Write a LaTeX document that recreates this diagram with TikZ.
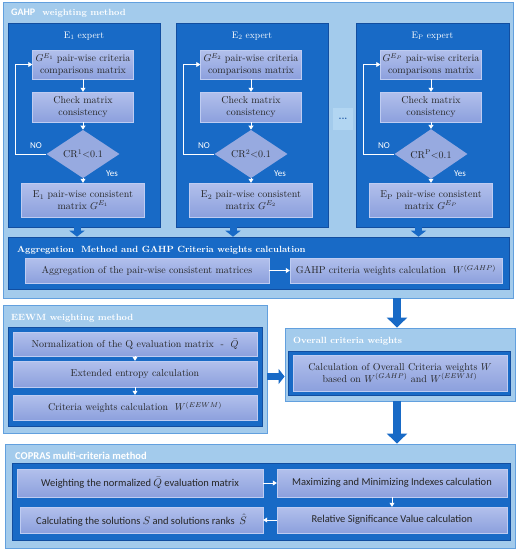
\documentclass[tikz,border=0pt]{standalone}
\usepackage{fontspec}
\newfontfamily\calib{Carlito}
\usepackage{amsmath}
\usepackage{xcolor}
\usetikzlibrary{shapes.geometric,arrows.meta,positioning,calc}

\definecolor{outerblue}{RGB}{163,203,236}
\definecolor{lineblue}{RGB}{98,160,222}
\definecolor{darkblue}{RGB}{24,106,198}
\definecolor{navyblue}{RGB}{18,78,160}
\definecolor{boxtop}{RGB}{178,192,236}
\definecolor{boxbot}{RGB}{140,160,221}
\definecolor{boxline}{RGB}{190,204,242}
\definecolor{dotblue}{RGB}{178,214,242}

\begin{document}
\begin{tikzpicture}[x=1pt, y=-1pt,
    outerbox/.style={rectangle, draw=lineblue, line width=0.9pt, fill=outerblue, inner sep=0pt},
    darkbox/.style={rectangle, draw=navyblue, line width=0.6pt, fill=darkblue, inner sep=0pt},
    stepbox/.style={rectangle, draw=boxline, line width=0.4pt, top color=boxtop, bottom color=boxbot, align=center, text=black!85, font=\fontsize{10}{11.5}\selectfont, inner sep=1pt},
    sansbox/.style={stepbox, font=\calib\fontsize{10.5}{12}\selectfont},
    critbox/.style={diamond, fill=boxbot!90!white, text=black!85, minimum width=73pt, minimum height=32pt, inner sep=0pt, font=\fontsize{10}{11}\selectfont},
    headtext/.style={anchor=west, text=white, font=\fontsize{9}{11}\selectfont\bfseries, inner sep=0pt},
    expertname/.style={text=white, font=\fontsize{9.5}{11}\selectfont, inner sep=0pt},
    choice/.style={text=white, font=\calib\fontsize{9}{10}\selectfont, inner sep=0pt},
    warrow/.style={-{Triangle[width=5pt,length=4pt]}, white, line width=0.8pt},
    fatarrow/.style={-{Triangle[width=15pt,length=6pt]}, draw=darkblue, line width=7pt},
    bigarrow/.style={-{Triangle[width=20pt,length=10pt]}, draw=darkblue, line width=8pt}
  ]
    \useasboundingbox (0,0) rectangle (517,550);

    % GAHP weighting method
    \node[outerbox, minimum width=510pt, minimum height=296pt] (gahp) at (258,150) {};
    \node[headtext] (gahptitle) at (11,13) {{\calib\fontsize{10}{11}\selectfont GAHP}~ weighting method};

    % Expert 1
    \node[darkbox, minimum width=152pt, minimum height=204pt] (e1) at (84,125) {};
    \node[expertname] (e1name) at (84,36) {E\textsubscript{1} expert};
    \node[stepbox, minimum width=101pt, minimum height=29pt] (g1) at (83,64.5) {$G^{E_1}$ pair-wise criteria\\comparisons matrix};
    \node[stepbox, minimum width=101pt, minimum height=30pt] (c1) at (83,107) {Check matrix\\consistency};
    \node[critbox] (d1) at (83,154) {CR\textsuperscript{1}<0.1};
    \node[stepbox, minimum width=123pt, minimum height=34pt] (m1) at (83,200) {E\textsubscript{1} pair-wise consistent\\matrix $G^{E_1}$};
    \draw[warrow] (g1) -- (c1);
    \draw[warrow] (c1) -- (d1);
    \draw[warrow] (d1) -- (m1);
    \draw[warrow] (d1.west) -- ++(-31,0) |- (g1.west);
    \node[choice] (no1) at (36,146) {NO};
    \node[choice] (yes1) at (112,174) {Yes};

    % Expert 2
    \node[darkbox, minimum width=152pt, minimum height=204pt] (e2) at (252,125) {};
    \node[expertname] (e2name) at (252,36) {E\textsubscript{2} expert};
    \node[stepbox, minimum width=101pt, minimum height=29pt] (g2) at (251,64.5) {$G^{E_2}$ pair-wise criteria\\comparisons matrix};
    \node[stepbox, minimum width=101pt, minimum height=30pt] (c2) at (251,107) {Check matrix\\consistency};
    \node[critbox] (d2) at (251,154) {CR\textsuperscript{2}<0.1};
    \node[stepbox, minimum width=123pt, minimum height=34pt] (m2) at (251,200) {E\textsubscript{2} pair-wise consistent\\matrix $G^{E_2}$};
    \draw[warrow] (g2) -- (c2);
    \draw[warrow] (c2) -- (d2);
    \draw[warrow] (d2) -- (m2);
    \draw[warrow] (d2.west) -- ++(-31,0) |- (g2.west);
    \node[choice] (no2) at (204,146) {NO};
    \node[choice] (yes2) at (280,174) {Yes};

    % dots between experts
    \node[rectangle, fill=dotblue, minimum width=20pt, minimum height=22pt, inner sep=0pt, font=\fontsize{9}{10}\selectfont\bfseries, text=navyblue] (dots) at (343,119) {...};

    % Expert P
    \node[darkbox, minimum width=153pt, minimum height=204pt] (ep) at (432.5,125) {};
    \node[expertname] (epname) at (432.5,36) {E\textsubscript{P} expert};
    \node[stepbox, minimum width=101pt, minimum height=29pt] (gp) at (431,64.5) {$G^{E_P}$ pair-wise criteria\\comparisons matrix};
    \node[stepbox, minimum width=101pt, minimum height=30pt] (cp) at (431,107) {Check matrix\\consistency};
    \node[critbox] (dp) at (431,154) {CR\textsuperscript{P}<0.1};
    \node[stepbox, minimum width=123pt, minimum height=34pt] (mp) at (431,200) {E\textsubscript{P} pair-wise consistent\\matrix $G^{E_P}$};
    \draw[warrow] (gp) -- (cp);
    \draw[warrow] (cp) -- (dp);
    \draw[warrow] (dp) -- (mp);
    \draw[warrow] (dp.west) -- ++(-31,0) |- (gp.west);
    \node[choice] (nop) at (384,146) {NO};
    \node[choice] (yesp) at (460,174) {Yes};

    % Aggregation section
    \node[darkbox, minimum width=501pt, minimum height=52pt] (agg) at (258.5,263) {};
    \node[headtext] (aggtitle) at (17,250) {Aggregation~ Method and GAHP Criteria weights calculation};
    \node[stepbox, minimum width=244pt, minimum height=25pt] (agg1) at (147,270.5) {Aggregation of the pair-wise consistent matrices};
    \node[stepbox, minimum width=212pt, minimum height=25pt] (agg2) at (396,270.5) {GAHP criteria weights calculation~ $W^{(GAHP)}$};
    \draw[warrow] (agg1) -- (agg2);

    % Experts to aggregation
    \draw[fatarrow] ([xshift=-7pt]e1.south) -- ([xshift=-7pt]e1.south |- agg.north);
    \draw[fatarrow] ([xshift=-19pt]e2.south) -- ([xshift=-19pt]e2.south |- agg.north);
    \draw[fatarrow] ([xshift=-14pt]ep.south) -- ([xshift=-14pt]ep.south |- agg.north);

    % EEWM weighting method
    \node[outerbox, minimum width=264pt, minimum height=128pt] (eewm) at (135,369) {};
    \node[headtext] (eewmtitle) at (11,318) {EEWM weighting method};
    \node[darkbox, minimum width=254pt, minimum height=99pt] (ewin) at (135,376.5) {};
    \node[stepbox, minimum width=244pt, minimum height=24pt] (ew1) at (135,344) {Normalization of the Q evaluation matrix~ -~ $\bar{Q}$};
    \node[stepbox, minimum width=244pt, minimum height=26pt] (ew2) at (135,374) {Extended entropy calculation};
    \node[stepbox, minimum width=244pt, minimum height=25pt] (ew3) at (135,407.5) {Criteria weights calculation~ $W^{(EEWM)}$};
    \draw[warrow] (ew1) -- (ew2);
    \draw[warrow] (ew2) -- (ew3);

    % Overall criteria weights
    \node[outerbox, minimum width=230pt, minimum height=73pt] (over) at (400,364.5) {};
    \node[headtext] (overtitle) at (293,341) {Overall criteria weights};
    \node[darkbox, minimum width=222pt, minimum height=44pt] (ovin) at (399,373) {};
    \node[stepbox, minimum width=214pt, minimum height=36pt] (ov1) at (400,373) {Calculation of Overall Criteria weights $W$\\based on $W^{(GAHP)}$ and $W^{(EEWM)}$};

    \draw[bigarrow] ([xshift=-3pt]over.north |- gahp.south) -- ([xshift=-3pt]over.north);
    \draw[fatarrow] (eewm.east |- ewin.center) -- (over.west |- ewin.center);

    % COPRAS multi-criteria method
    \node[outerbox, minimum width=510pt, minimum height=104pt] (copras) at (260,496) {};
    \node[headtext, font=\calib\fontsize{10.5}{12}\selectfont\bfseries] (coprastitle) at (15,456) {COPRAS multi-criteria method};
    \node[darkbox, minimum width=498pt, minimum height=77pt] (cpin) at (261,501.5) {};
    \node[sansbox, minimum width=246pt, minimum height=28pt] (ca) at (140,483) {Weighting the normalized $\bar{Q}$ evaluation matrix};
    \node[sansbox, minimum width=230pt, minimum height=28pt] (cb) at (392,483) {Maximizing and Minimizing Indexes calculation};
    \node[sansbox, minimum width=230pt, minimum height=26pt] (cc) at (392,520) {Relative Significance Value calculation};
    \node[sansbox, minimum width=243pt, minimum height=26pt] (cd) at (141.5,520) {Calculating the solutions $S$ and solutions ranks~ $\hat{S}$};
    \draw[warrow] (ca) -- (cb);
    \draw[warrow] (cb) -- (cc);
    \draw[warrow] (cc) -- (cd);

    \draw[bigarrow] ([xshift=-3pt]over.south) -- ([xshift=-3pt]over.south |- copras.north);
  \end{tikzpicture}
\end{document}
